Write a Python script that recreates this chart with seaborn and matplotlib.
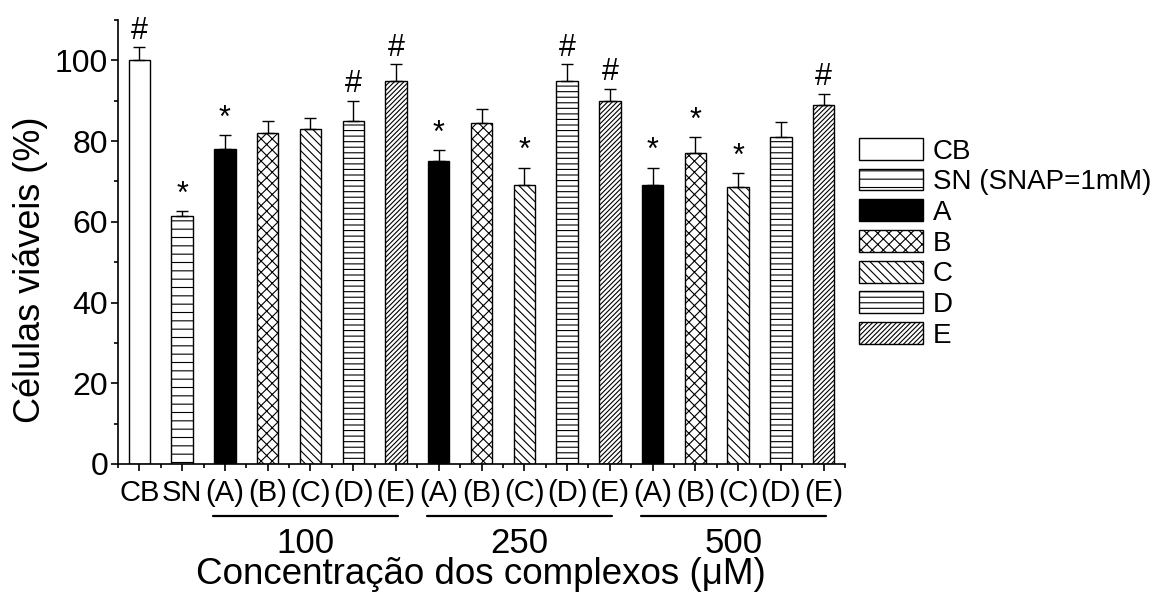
import numpy as np
import pandas as pd
import matplotlib
matplotlib.use('Agg')
import matplotlib.pyplot as plt
from matplotlib.patches import Patch
from matplotlib.ticker import FixedLocator
import seaborn as sns

# dados
grupos = ['CB', 'SN', 'A100', 'B100', 'C100', 'D100', 'E100',
          'A250', 'B250', 'C250', 'D250', 'E250',
          'A500', 'B500', 'C500', 'D500', 'E500']
tratamentos = ['CB', 'SN', 'A', 'B', 'C', 'D', 'E',
               'A', 'B', 'C', 'D', 'E',
               'A', 'B', 'C', 'D', 'E']
rotulos = ['CB', 'SN', '(A)', '(B)', '(C)', '(D)', '(E)',
           '(A)', '(B)', '(C)', '(D)', '(E)',
           '(A)', '(B)', '(C)', '(D)', '(E)']
viabilidade = [100, 61.5, 78, 82, 83, 85, 95,
               75, 84.5, 69, 95, 90,
               69, 77, 68.5, 81, 89]
erro = [3.3, 1.2, 3.5, 3.0, 2.7, 5.0, 4.0,
        2.8, 3.5, 4.4, 4.1, 3.0,
        4.4, 4.0, 3.5, 3.8, 2.7]
marcas = ['#', '*', '*', '', '', '#', '#',
          '*', '', '*', '#', '#',
          '*', '*', '*', '', '#']
concentracoes = ['100', '250', '500']
legenda = ['CB', 'SN (SNAP=1mM)', 'A', 'B', 'C', 'D', 'E']

preench = {'CB': 'white', 'SN': 'white', 'A': 'black', 'B': 'white',
           'C': 'white', 'D': 'white', 'E': 'white'}
hachura = {'CB': '', 'SN': '--', 'A': '', 'B': 'xxx',
           'C': '\\\\\\\\', 'D': '---', 'E': '///////'}

sns.set_style('ticks')
plt.rcParams['font.family'] = ['Liberation Sans', 'DejaVu Sans']
plt.rcParams['hatch.linewidth'] = 0.8
plt.rcParams['axes.linewidth'] = 1.2
for chave in ['text.color', 'axes.labelcolor', 'axes.edgecolor',
              'xtick.color', 'ytick.color']:
    plt.rcParams[chave] = 'black'

df = pd.DataFrame({'grupo': grupos, 'viab': viabilidade})

fig = plt.figure(figsize=(11.63, 5.95), dpi=100)
ax = fig.add_axes([0.1015, 0.2202, 0.6251, 0.7462])

sns.barplot(data=df, x='grupo', y='viab', order=grupos, color='white',
            width=0.5, edgecolor='black', linewidth=1.0, ax=ax)
for p, t in zip(ax.patches, tratamentos):
    p.set_facecolor(preench[t])
    p.set_hatch(hachura[t])

x = np.arange(len(grupos))
ax.errorbar(x, viabilidade, yerr=[np.zeros(len(erro)), erro], fmt='none',
            ecolor='black', elinewidth=1.0, capsize=4, capthick=1.0)

for i, m in enumerate(marcas):
    if m:
        ax.annotate(m, (i, viabilidade[i] + erro[i]), xytext=(0, 1),
                    textcoords='offset points', ha='center', va='bottom',
                    fontsize=22)

ax.set_xlim(-0.5, 16.5)
ax.set_ylim(0, 110)
ax.set_yticks([0, 20, 40, 60, 80, 100])
ax.yaxis.set_minor_locator(FixedLocator(np.arange(10, 111, 20)))
ax.xaxis.set_minor_locator(FixedLocator(np.arange(-0.5, 17, 1)))
ax.set_xticks(x)
ax.set_xticklabels(rotulos, fontsize=21)
ax.tick_params(axis='y', labelsize=23, pad=2)
ax.tick_params(axis='x', pad=6)
ax.tick_params(which='major', direction='out', length=5, width=1.2)
ax.tick_params(which='minor', direction='out', length=3, width=1.2)
ax.set_xlabel('')
ax.set_ylabel('')
sns.despine(ax=ax)

# linhas e rotulos de concentracao
trans = ax.get_xaxis_transform()
for k, c in enumerate(concentracoes):
    ini = 2 + 5 * k
    x0, x1 = ini - 0.27, ini + 4 + 0.05
    ax.plot([x0, x1], [-0.117, -0.117], color='black', lw=1.6,
            transform=trans, clip_on=False)
    ax.text((x0 + x1) / 2, -0.178, c, transform=trans, ha='center',
            va='center', fontsize=25)

fig.text(0.4136, 0.034, 'Concentração dos complexos (μM)', ha='center',
         va='center', fontsize=26.5)
fig.text(31 / 1163, 1 - 270 / 595, 'Células viáveis (%)', rotation=90,
         ha='center', va='center', fontsize=26)

handles = [Patch(facecolor=preench[t], edgecolor='black', hatch=hachura[t],
                 linewidth=1.0) for t in preench]
fig.legend(handles, legenda, loc='upper left',
           bbox_to_anchor=(859 / 1163, 1 - 138 / 595), frameon=False,
           fontsize=20, handlelength=2.3, handleheight=0.83,
           handletextpad=0.35, labelspacing=0.15, borderpad=0,
           borderaxespad=0)

fig.savefig('out.png', dpi=100)
